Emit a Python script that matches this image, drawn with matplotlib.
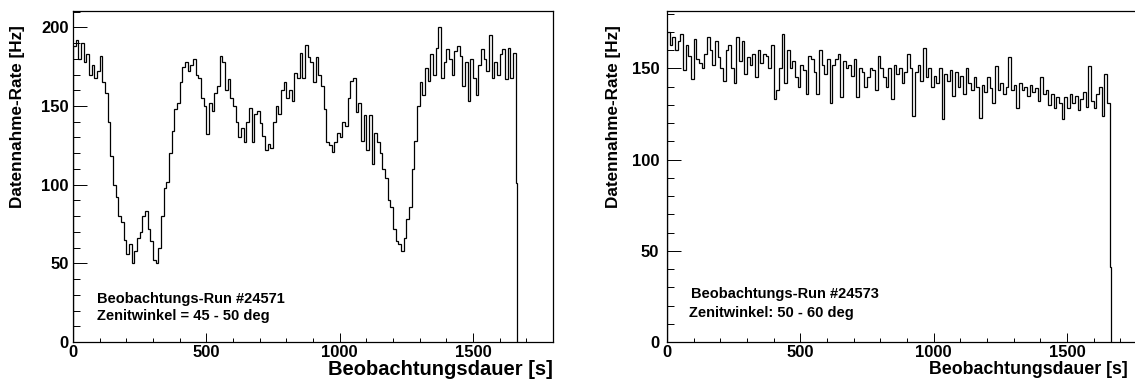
import numpy as np
import matplotlib
matplotlib.use('Agg')
import matplotlib.pyplot as plt
from matplotlib.ticker import MultipleLocator

plt.rcParams['font.family'] = ['Liberation Sans', 'DejaVu Sans']
plt.rcParams['font.weight'] = 'bold'
plt.rcParams['axes.labelweight'] = 'bold'

# 10 s bins, last bin is the short tail at the end of the run
bin_edges = np.r_[np.arange(0, 1670, 10), 1666]

# run 24571, rate per bin [Hz]
rate_24571 = [
    188, 192, 180, 190, 178, 183, 170, 176, 168, 172,
    182, 165, 158, 140, 118, 100, 92, 80, 76, 65,
    56, 62, 50, 58, 66, 70, 80, 83, 72, 64,
    52, 50, 60, 80, 98, 102, 120, 134, 148, 152,
    165, 175, 178, 172, 176, 180, 170, 168, 155, 150,
    132, 152, 147, 158, 163, 182, 178, 160, 167, 155,
    150, 140, 130, 136, 127, 140, 149, 127, 145, 147,
    139, 131, 122, 126, 123, 140, 150, 145, 160, 165,
    155, 160, 153, 171, 168, 184, 168, 189, 181, 178,
    165, 181, 170, 163, 148, 127, 125, 121, 127, 133,
    130, 140, 137, 155, 166, 168, 146, 152, 128, 144,
    122, 144, 113, 133, 127, 120, 110, 104, 90, 86,
    72, 64, 62, 58, 66, 78, 86, 110, 128, 150,
    165, 157, 174, 166, 183, 170, 187, 200, 168, 178,
    186, 180, 170, 185, 188, 182, 163, 178, 153, 180,
    168, 157, 176, 186, 180, 172, 195, 168, 178, 170,
    183, 186, 167, 187, 168, 184,
    101,
]

# run 24573, rate per bin [Hz]
rate_24573 = [
    170, 163, 167, 160, 165, 169, 149, 163, 157, 144,
    166, 155, 153, 150, 158, 167, 160, 152, 165, 156,
    150, 143, 160, 163, 150, 142, 167, 154, 165, 147,
    156, 152, 158, 145, 160, 153, 158, 157, 150, 163,
    133, 138, 150, 169, 142, 160, 150, 154, 145, 140,
    152, 149, 136, 157, 155, 148, 136, 160, 152, 147,
    155, 131, 152, 155, 158, 134, 154, 150, 152, 146,
    155, 134, 150, 148, 140, 145, 150, 149, 138, 157,
    150, 145, 140, 150, 133, 152, 147, 150, 142, 148,
    158, 150, 124, 148, 152, 143, 161, 145, 150, 140,
    146, 142, 150, 122, 147, 143, 149, 135, 148, 140,
    146, 136, 150, 142, 138, 145, 140, 123, 141, 137,
    145, 139, 131, 151, 138, 142, 136, 140, 156, 138,
    141, 128, 142, 138, 140, 135, 141, 137, 139, 132,
    145, 136, 138, 130, 136, 128, 134, 131, 122, 134,
    128, 136, 131, 135, 127, 133, 137, 129, 151, 132,
    128, 136, 140, 124, 147, 131,
    41,
]

runs = ['Beobachtungs-Run #24571', 'Beobachtungs-Run #24573']
zenith = ['Zenitwinkel = 45 - 50 deg', 'Zenitwinkel: 50 - 60 deg']

W, H = 1135, 382
fig = plt.figure(figsize=(W / 100, H / 100), dpi=100)
ax1 = fig.add_axes([73 / W, 1 - 342 / H, 480 / W, 331 / H])
ax2 = fig.add_axes([667 / W, 1 - 342 / H, 480 / W, 331 / H])

# axis, data, y max, y label pad, x label x / size, y label x, text positions
setup = [
    (ax1, rate_24571, 210.4, 3.3, 1.0, 14.5, -0.1146, (0.05, 0.118, 0.05, 0.0665)),
    (ax2, rate_24573, 181.4, 5.6, 0.960, 12.8, -0.111, (0.05, 0.133, 0.046, 0.0755)),
]

for i, (ax, rate, ymax, ypad, xlab_x, xlab_fs, ylab_x, txt) in enumerate(setup):
    ax.stairs(rate, bin_edges, baseline=0, color='black', linewidth=0.9)
    ax.set_xlim(0, 1800)
    ax.set_ylim(0, ymax)
    ax.xaxis.set_major_locator(MultipleLocator(500))
    ax.xaxis.set_minor_locator(MultipleLocator(100))
    ax.yaxis.set_major_locator(MultipleLocator(50))
    ax.yaxis.set_minor_locator(MultipleLocator(10))
    ax.tick_params(axis='x', which='major', direction='in', length=6.5, width=0.7,
                   labelsize=12, pad=2.5, top=False)
    ax.tick_params(axis='x', which='minor', direction='in', length=3.2, width=0.7, top=False)
    ax.tick_params(axis='y', which='major', direction='in', length=10, width=0.7,
                   labelsize=12, pad=ypad, right=False)
    ax.tick_params(axis='y', which='minor', direction='in', length=5, width=0.7, right=False)
    for sp in ax.spines.values():
        sp.set_linewidth(0.9)

    ax.set_xlabel('Beobachtungsdauer [s]', loc='right', fontsize=xlab_fs, va='center')
    ax.xaxis.set_label_coords(xlab_x, -0.0816)
    ax.set_ylabel('Datennahme-Rate [Hz]', loc='top', fontsize=12.3, va='center')
    ax.yaxis.set_label_coords(ylab_x, 0.958)

    ax.text(txt[0], txt[1], runs[i], transform=ax.transAxes, fontsize=10.5,
            va='baseline', ha='left')
    ax.text(txt[2], txt[3], zenith[i], transform=ax.transAxes, fontsize=10.5,
            va='baseline', ha='left')

fig.savefig('out.png', dpi=100)
